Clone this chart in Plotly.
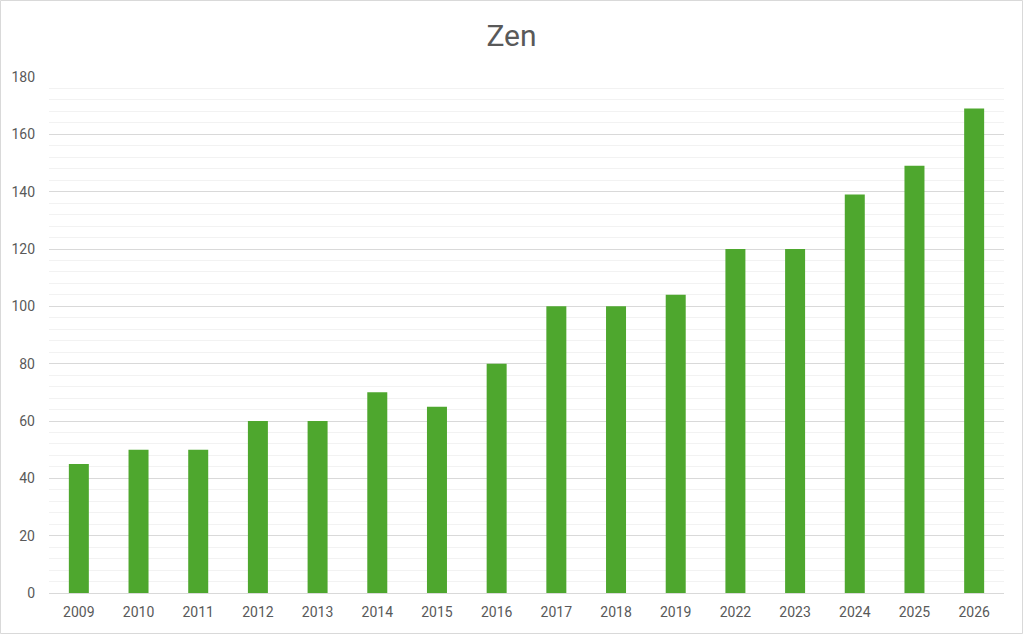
import plotly.graph_objects as go

# data
years = ["2009", "2010", "2011", "2012", "2013", "2014", "2015", "2016",
         "2017", "2018", "2019", "2022", "2023", "2024", "2025", "2026"]
values = [45, 50, 50, 60, 60, 70, 65, 80, 100, 100, 104, 120, 120, 139, 149, 169]

W, H = 1023, 634
margin = dict(l=49, r=19, t=77, b=41)
pw = W - margin["l"] - margin["r"]
ph = H - margin["t"] - margin["b"]

fig = go.Figure()
fig.add_trace(go.Bar(
    x=years, y=values,
    marker=dict(color="#4EA72E", line=dict(width=0)),
    name="Zen",
))

fig.update_layout(
    width=W, height=H,
    margin=margin,
    title=dict(text="Zen", x=0.5, xanchor="center", y=1 - 35 / H, yanchor="middle",
               font=dict(size=30, color="#595959")),
    font=dict(family="Roboto, Liberation Sans, sans-serif", size=14, color="#595959"),
    plot_bgcolor="white", paper_bgcolor="white",
    bargap=0.665,
    showlegend=False,
)

fig.update_yaxes(
    range=[0, 180], dtick=20, tick0=0,
    showgrid=True, gridcolor="#D9D9D9", gridwidth=1,
    minor=dict(dtick=4, showgrid=True, gridcolor="#F2F2F2", gridwidth=1),
    zeroline=False, showline=False, ticks="", ticklabelstandoff=13,
    tickfont=dict(size=14, color="#595959"),
)
fig.update_xaxes(
    type="category", showgrid=False, showline=True, linecolor="#D9D9D9", linewidth=1,
    ticks="", tickfont=dict(size=14, color="#595959"), ticklabelstandoff=6,
)

# light outline around the whole chart
fig.add_shape(
    type="rect", xref="paper", yref="paper",
    x0=-(margin["l"] - 0.5) / pw, x1=1 + (margin["r"] - 0.5) / pw,
    y0=-(margin["b"] - 0.5) / ph, y1=1 + (margin["t"] - 0.5) / ph,
    line=dict(color="#D9D9D9", width=1), layer="below",
)

# drop the default page margin so the chart sits at the window corner
fig.write_html("out.html", config={"displayModeBar": False},
               post_script="document.body.style.margin='0';")
